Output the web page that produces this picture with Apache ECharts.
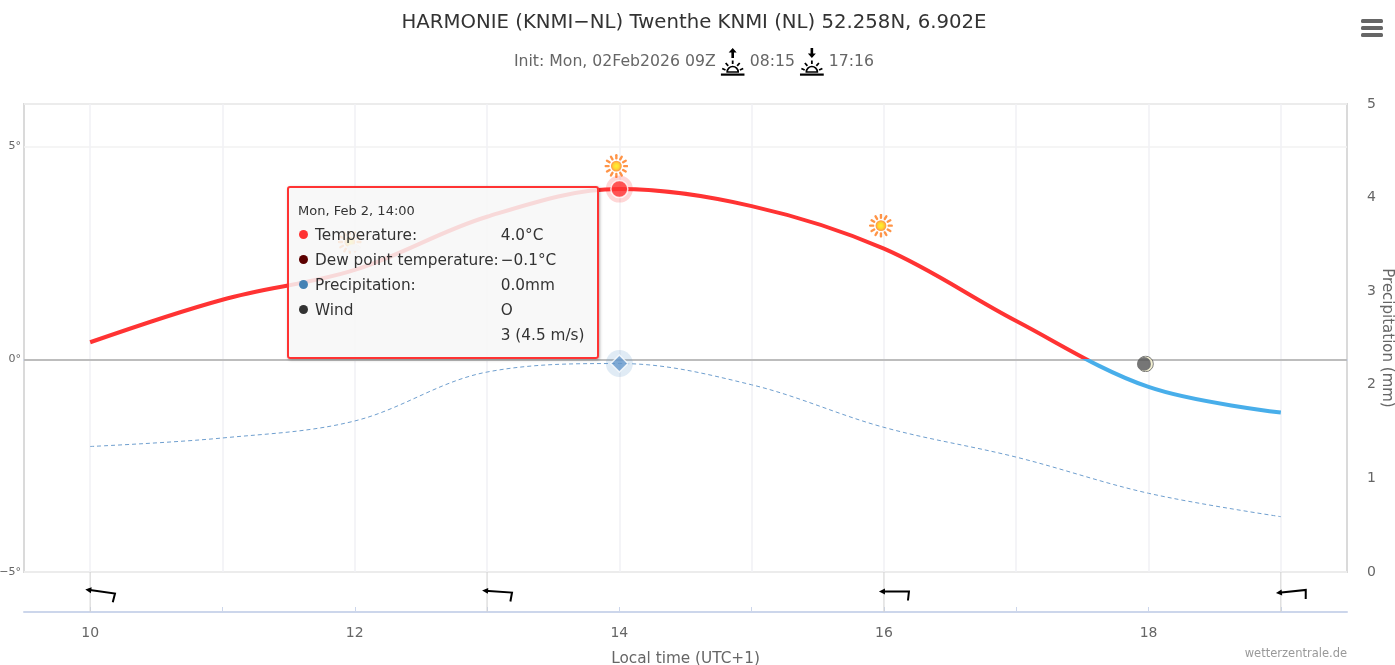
<!DOCTYPE html>
<html><head><meta charset="utf-8">
<style>html,body{margin:0;padding:0;background:#fff}#c{width:1395px;height:665px}</style>
<script src="https://cdn.jsdelivr.net/npm/echarts@6/dist/echarts.min.js"></script>
</head><body><div id="c"></div>
<script>
const hours = ['10','11','12','13','14','15','16','17','18','19'];
const temperature = [0.4,1.4,2.1,3.35,4.0,3.6,2.6,0.9,-0.65,-1.25];
const dewPoint = [-2.05,-1.85,-1.45,-0.3,-0.1,-0.6,-1.6,-2.3,-3.15,-3.7];
const precipitation = [0,0,0,0,0,0,0,0,0,0];
const windHours = ['10','13','16','19'];
const windDir = [98,94,90,84];
const iconHours = ['12','14','16','18'];
const iconKinds = ['cloudsun','sun','sun','moon'];
const tempTicks = [-5,0,5];
const tipRows = [
 ['#ff3333','Temperature:','4.0°C'],
 ['#5c0000','Dew point temperature:','−0.1°C'],
 ['#4682b4','Precipitation:','0.0mm'],
 ['#333333','Wind','O'],
 ['','','3 (4.5 m/s)']
];
const FONT = "'DejaVu Sans', sans-serif";
const focusIdx = 4;

function svg(s){return 'image://data:image/svg+xml;utf8,'+encodeURIComponent(s);}
function rays(cx,cy,r1,r2,col,w){let o='';for(let i=0;i<12;i++){const a=i*Math.PI/6,
  x1=cx+r1*Math.cos(a),y1=cy+r1*Math.sin(a),x2=cx+r2*Math.cos(a),y2=cy+r2*Math.sin(a);
  o+=`<line x1="${x1}" y1="${y1}" x2="${x2}" y2="${y2}" stroke="${col}" stroke-width="${w}" stroke-linecap="round"/>`;}return o;}
const sunCore='<defs><radialGradient id="g"><stop offset="0" stop-color="#ffee00"/><stop offset="0.55" stop-color="#ffcc00"/><stop offset="1" stop-color="#ff7a1a"/></radialGradient></defs>';
const iconSvg={
 sun:svg(`<svg xmlns="http://www.w3.org/2000/svg" width="48" height="48" viewBox="0 0 24 24">${sunCore}${rays(12,12,7.8,10.8,'#ff7a1a',2.4)}<circle cx="12" cy="12" r="5.4" fill="url(#g)"/></svg>`),
 cloudsun:svg(`<svg xmlns="http://www.w3.org/2000/svg" width="48" height="48" viewBox="0 0 24 24">${sunCore}${rays(12,11,7.8,10.8,'#ff7a1a',2.4)}<circle cx="12" cy="11" r="5.4" fill="url(#g)"/><ellipse cx="16" cy="17" rx="7" ry="3.6" fill="#e6e6e6"/></svg>`),
 moon:svg(`<svg xmlns="http://www.w3.org/2000/svg" width="48" height="48" viewBox="0 0 24 24"><circle cx="12" cy="12" r="11" fill="#f2eec8" stroke="#444" stroke-width="1.2"/><circle cx="9.8" cy="12" r="9.8" fill="#555"/></svg>`)
};
function riseIcon(up){
 const arrow = up ? '<path d="M12 0L8 4.5H10.7V10H13.3V4.5H16Z" fill="#000"/>' : '<path d="M12 10L8 5.5H10.7V0H13.3V5.5H16Z" fill="#000"/>';
 return `data:image/svg+xml;utf8,`+encodeURIComponent(`<svg xmlns="http://www.w3.org/2000/svg" width="72" height="84" viewBox="0 0 24 28">${arrow}
 <path d="M6.5 24A5.5 5.5 0 0 1 17.5 24Z" fill="none" stroke="#000" stroke-width="1.7"/>
 <g stroke="#000" stroke-width="1.8"><line x1="12" y1="12.5" x2="12" y2="16"/><line x1="5" y1="15" x2="7.5" y2="17.8"/><line x1="19" y1="15" x2="16.5" y2="17.8"/><line x1="1.5" y1="20.5" x2="4.8" y2="22"/><line x1="22.5" y1="20.5" x2="19.2" y2="22"/></g>
 <rect x="0" y="25.5" width="24" height="2.2" fill="#000"/></svg>`);
}
const tipHtml = `<div style="font:13px ${FONT};color:#333;line-height:16px;margin-bottom:4px">Mon, Feb 2, 14:00</div>` +
 `<table style="border-collapse:collapse;font:15.3px/25px ${FONT};color:#333">` +
 tipRows.map(r=>`<tr><td style="padding:0;width:17px">${r[0]?`<span style="display:inline-block;width:9px;height:9px;border-radius:50%;background:${r[0]};margin-left:1px;vertical-align:1px"></span>`:''}</td><td style="padding:0;white-space:nowrap">${r[1]}</td><td style="padding:0 0 0 2px;white-space:nowrap">${r[2]}</td></tr>`).join('') + '</table>';

const chart = echarts.init(document.getElementById('c'),null,{renderer:'canvas'});
chart.setOption({
 animation:false,
 backgroundColor:'#fff',
 title:{
  text:'HARMONIE (KNMI−NL) Twenthe KNMI (NL) 52.258N, 6.902E',
  subtext:'{t|Init: Mon, 02Feb2026 09Z} {up|} {t|08:15} {dn|} {t|17:16}',
  left:689,top:8,textAlign:'center',itemGap:15,
  textStyle:{fontFamily:FONT,fontSize:19.7,fontWeight:'normal',color:'#333'},
  subtextStyle:{fontFamily:FONT,fontSize:15.7,color:'#666',rich:{
   t:{fontFamily:FONT,fontSize:15.7,color:'#666'},
   up:{width:24,height:28,backgroundColor:{image:riseIcon(true)}},
   dn:{width:24,height:28,backgroundColor:{image:riseIcon(false)}}
  }}
 },
 grid:[
  {left:24,top:104,width:1323,height:468,show:true,borderColor:'#dadada',borderWidth:2,backgroundColor:'#fff',outerBoundsMode:'none'},
  {left:24,top:572,width:1323,height:40,outerBoundsMode:'none'}
 ],
 xAxis:[
  {type:'category',gridIndex:0,data:hours,boundaryGap:true,position:'top',
   axisLine:{show:true,lineStyle:{color:'#ccd6eb',width:2}},axisTick:{show:false},axisLabel:{show:false},
   splitLine:{show:true,alignWithLabel:true,interval:0,lineStyle:{color:'#f0f1f4',width:1.5}}},
  {type:'category',gridIndex:1,data:hours,boundaryGap:true,
   axisLine:{show:true,lineStyle:{color:'#ccd6eb',width:2}},
   axisTick:{show:true,alignWithLabel:true,inside:true,length:5,interval:0,lineStyle:{color:'#ccd6eb'}},
   axisLabel:{interval:1,margin:14,fontFamily:FONT,fontSize:14,color:'#666'},
   name:'Local time (UTC+1)',nameLocation:'middle',nameGap:40,
   nameTextStyle:{fontFamily:FONT,fontSize:15.3,color:'#666'}}
 ],
 yAxis:[
  {type:'value',gridIndex:0,min:-5,max:6,interval:5,position:'left',
   axisLine:{show:false},axisTick:{show:false},
   axisLabel:{fontFamily:FONT,fontSize:11,color:'#666',margin:3,verticalAlign:'middle',padding:[0,0,4,0],
    formatter:v=>tempTicks.includes(v)?String(v).replace('-','−')+'°':''},
   splitLine:{show:true,lineStyle:{color:'#f2f2f2',width:1.5}}},
  {type:'value',gridIndex:0,min:0,max:5,interval:1,position:'right',
   axisLine:{show:false},axisTick:{show:false},
   axisLabel:{fontFamily:FONT,fontSize:14,color:'#666',margin:20,verticalAlign:'middle',padding:[3,0,0,0]},
   splitLine:{show:false}},
  {type:'value',gridIndex:1,min:0,max:1,show:false}
 ],
 visualMap:{show:false,type:'piecewise',seriesIndex:0,dimension:1,
  pieces:[{gt:0,lte:100,color:'#ff3333'},{gt:-100,lte:0,color:'#48aeea'}]},
 tooltip:{trigger:'item',triggerOn:'none',alwaysShowContent:true,transitionDuration:0,
  position:[287,186],padding:0,borderWidth:0,backgroundColor:'transparent',shadowBlur:0,
  extraCssText:'box-shadow:none;',
  formatter:()=>`<div style="box-sizing:border-box;width:312px;height:173px;padding:15px 8px 0 9px;background:rgba(247,247,247,.85);border:2px solid #ff3333;border-radius:3px;box-shadow:1px 1px 3px rgba(0,0,0,.3)">${tipHtml}</div>`},
 series:[
  {name:'Temperature',type:'line',xAxisIndex:0,yAxisIndex:0,data:temperature,smooth:0.35,showSymbol:false,
   lineStyle:{width:4},z:5,
   markLine:{silent:true,symbol:'none',animation:false,label:{show:false},z:1,
    data:[{yAxis:0}],lineStyle:{color:'#bdbdbd',width:2,type:'solid'}}},
  {name:'Dew point temperature',type:'line',xAxisIndex:0,yAxisIndex:0,data:dewPoint,smooth:0.35,showSymbol:false,
   lineStyle:{width:1,color:'#6f9fcf',type:[4,3]},z:4},
  {name:'Precipitation',type:'bar',xAxisIndex:0,yAxisIndex:1,data:precipitation,itemStyle:{color:'#4682b4'},z:2},
  {name:'Weather',type:'scatter',xAxisIndex:0,yAxisIndex:0,z:6,
   data:iconHours.map((h,i)=>({value:[h,temperature[hours.indexOf(h)]],
    symbol:iconSvg[iconKinds[i]],
    symbolSize:iconKinds[i]==='moon'?17:24,
    symbolOffset:iconKinds[i]==='cloudsun'?[-5,-27]:[-3,-23]}))},
  {name:'TempHalo',type:'scatter',xAxisIndex:0,yAxisIndex:0,z:7,symbol:'circle',symbolSize:27,
   itemStyle:{color:'rgba(255,51,51,.25)'},data:[[hours[focusIdx],temperature[focusIdx]]]},
  {name:'TempDot',type:'scatter',xAxisIndex:0,yAxisIndex:0,z:8,symbol:'circle',symbolSize:17,
   itemStyle:{color:'#ff3333',borderColor:'#fff',borderWidth:1.5},data:[[hours[focusIdx],temperature[focusIdx]]]},
  {name:'DewHalo',type:'scatter',xAxisIndex:0,yAxisIndex:0,z:7,symbol:'circle',symbolSize:27,
   itemStyle:{color:'rgba(102,153,204,.25)'},data:[[hours[focusIdx],dewPoint[focusIdx]]]},
  {name:'DewDot',type:'scatter',xAxisIndex:0,yAxisIndex:0,z:8,symbol:'diamond',symbolSize:17,
   itemStyle:{color:'#6699cc',borderColor:'#fff',borderWidth:1.5},data:[[hours[focusIdx],dewPoint[focusIdx]]]},
  {name:'Wind',type:'custom',xAxisIndex:1,yAxisIndex:2,z:6,
   data:windHours.map((h,i)=>[h,windDir[i]]),
   encode:{x:0},
   clip:false,
   renderItem:(p,api)=>{
    const h=api.value(0);
    const top=api.coord([h,1]),bot=api.coord([h,0]),mid=api.coord([h,0.5]);
    const rot=-(api.value(1)-90)*Math.PI/180;
    return {type:'group',children:[
     {type:'line',shape:{x1:top[0],y1:top[1],x2:bot[0],y2:bot[1]},style:{stroke:'#d0d0d0',lineWidth:1}},
     {type:'group',x:mid[0]+10,y:mid[1]-0.5,rotation:rot,children:[
      {type:'polyline',shape:{points:[[-12,0],[15,0],[14,9]]},style:{fill:null,stroke:'#000',lineWidth:2}},
      {type:'polygon',shape:{points:[[-15,0],[-9,-3],[-9,3]]},style:{fill:'#000'}}
     ]}
    ]};
   }}
 ],
 graphic:[
  {type:'text',right:48,top:648,style:{text:'wetterzentrale.de',fontFamily:FONT,fontSize:11.5,fill:'#999'}},
  {type:'text',x:1387,y:338,rotation:-Math.PI/2,style:{text:'Precipitation (mm)',fontFamily:FONT,fontSize:15,fill:'#666',align:'center',verticalAlign:'middle'}},
  {type:'group',left:1361,top:19,children:[
   {type:'rect',shape:{x:0,y:0,width:22,height:4,r:1.5},style:{fill:'#666'}},
   {type:'rect',shape:{x:0,y:7,width:22,height:4,r:1.5},style:{fill:'#666'}},
   {type:'rect',shape:{x:0,y:14,width:22,height:4,r:1.5},style:{fill:'#666'}}
  ]}
 ]
});
chart.dispatchAction({type:'showTip',seriesIndex:4,dataIndex:0});
</script></body></html>
